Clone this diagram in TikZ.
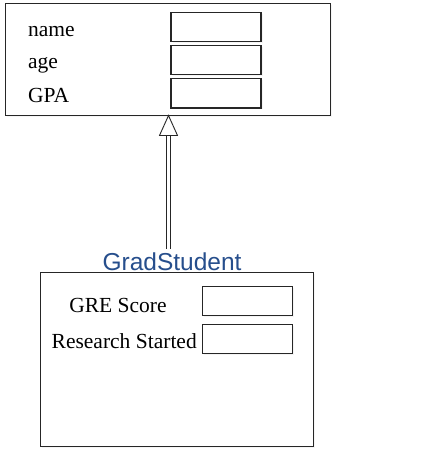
\documentclass[tikz,border=0pt]{standalone}
\usepackage{fontspec}
\setmainfont{Liberation Serif}
\setsansfont{Liberation Sans}
\usepackage{tikz}
\usetikzlibrary{positioning,shadows}
\definecolor{classblue}{RGB}{38,78,140}
\tikzstyle{classbox} = [draw=black!85, fill=white, line width=1pt,
    rectangle, inner sep=0, drop shadow={fill=black!8, draw=none, shadow xshift=1.5pt, shadow yshift=-1.5pt}]
\tikzstyle{fieldbox} = [draw=black!85, fill=white, line width=1.1pt,
    rectangle, inner sep=0, minimum width=90pt, minimum height=29.5pt,
    drop shadow={fill=black!8, draw=none, shadow xshift=1.5pt, shadow yshift=-1.5pt}]
\tikzstyle{fieldname} = [inner sep=0, anchor=base west, font=\fontsize{21.5}{25}\selectfont]
\tikzstyle{classname} = [inner sep=0, anchor=base, text=classblue,
    font=\sffamily\fontsize{24.5}{29}\selectfont]

\begin{document}
\begin{tikzpicture}[x=1pt,y=-1pt]
\useasboundingbox (0,0) rectangle (421,452);
% Student class
\node [classbox, minimum width=325pt, minimum height=111pt] (student) at (167.5,59.5) {};
\node [fieldbox] (namebox) at (216,27) {};
\node [fieldbox, below=2.5pt of namebox] (agebox) {};
\node [fieldbox, below=2.5pt of agebox] (gpabox) {};
\node [fieldname] (name) at (28,37) {name};
\node [fieldname] (age) at (28,68.5) {age};
\node [fieldname] (gpa) at (28,102) {GPA};
% GradStudent class
\node [classbox, minimum width=272.5pt, minimum height=174pt] (grad) at (177,359.5) {};
\node [classname] (gradname) at (172,270.5) {GradStudent};
\node [fieldbox] (grebox) at (247.5,301) {};
\node [fieldbox, below=7.5pt of grebox] (researchbox) {};
\node [fieldname, anchor=base] (gre) at (118,312) {GRE Score};
\node [fieldname] (research) at (51.5,348) {Research Started};
% inheritance
\coordinate (foot) at (168.5,249);
\coordinate (tip) at (student.south -| foot);
\draw [double=white, double distance=3.6pt, line width=0.9pt, draw=black!85] (foot) -- ([yshift=-20pt]tip);
\draw [fill=white, line width=0.9pt, draw=black!85] (tip) -- ++(-9,20) -- ++(18,0) -- cycle;
\end{tikzpicture}
\end{document}
